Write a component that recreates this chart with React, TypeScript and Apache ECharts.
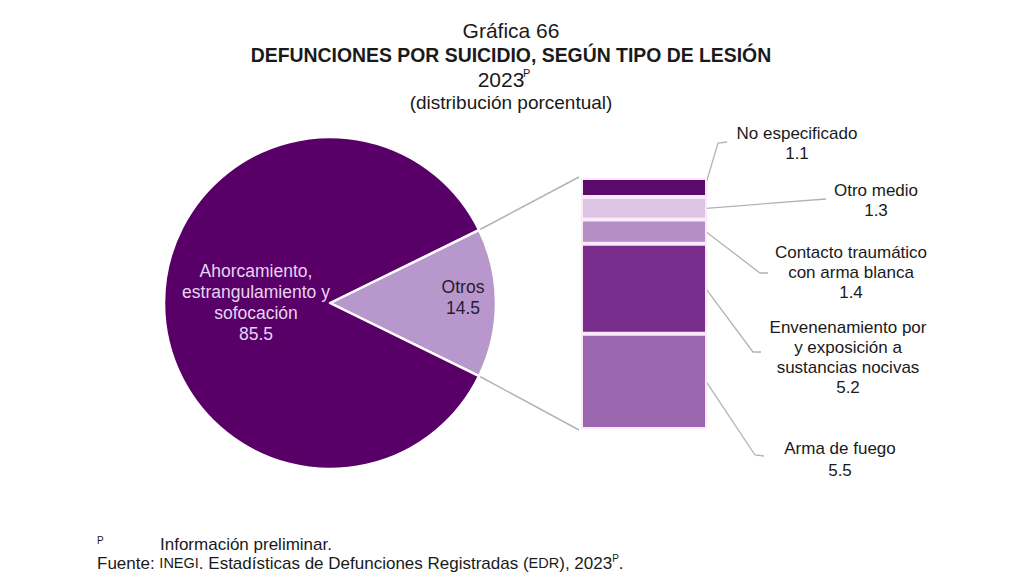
import React, { useEffect, useRef } from 'react';
import * as echarts from 'echarts';

const pieLabels = ['Otros', 'Ahorcamiento,\nestrangulamiento y\nsofocación'];
const pieNames = ['Otros', 'Ahorcamiento, estrangulamiento y sofocación'];
const pieValues = [14.5, 85.5];
const pieColors = ['#b898cc', '#580068'];

const barNames = ['No especificado', 'Otro medio', 'Contacto traumático con arma blanca', 'Envenenamiento por y exposición a sustancias nocivas', 'Arma de fuego'];
const barLabelLines = [['No especificado'], ['Otro medio'], ['Contacto traumático', 'con arma blanca'], ['Envenenamiento por', 'y exposición a', 'sustancias nocivas'], ['Arma de fuego']];
const barValues = [1.1, 1.3, 1.4, 5.2, 5.5];
const barColors = ['#5b0a6c', '#dcc5e4', '#b48ec5', '#782c8c', '#9a66ad'];

// label placement (styling)
const labelCenters = [[797, 133], [876, 190], [851, 252], [848, 327], [840, 448]];
const leaderBends = [[[718, 143], [727, 142]], [[826, 199]], [[760, 273], [768, 273]], [[753, 352], [761, 352]], [[755, 455], [764, 456]]];
const pieLabelOffsets = [[133, -6], [-74, -1]];

const PIE_CX = 330, PIE_CY = 303, PIE_R = 166;
const GRID_LEFT = 581, GRID_TOP = 178, GRID_W = 126, GRID_H = 251;
const FONT = 'Liberation Sans, Arial, sans-serif';
const TXT = '#1a1a1a';
const LINE = '#b3b3b3';

export default function App() {
  const ref = useRef<HTMLDivElement>(null);
  useEffect(() => {
    const chart = echarts.init(ref.current!, undefined, { renderer: 'svg' });
    const pieTotal = pieValues.reduce((a, b) => a + b, 0);
    const startAngle = (pieValues[0] / pieTotal) * 180;
    const barTotal = barValues.reduce((a, b) => a + b, 0);

    chart.setOption({
      animation: false,
      backgroundColor: '#ffffff',
      textStyle: { fontFamily: FONT },
      grid: { left: GRID_LEFT, top: GRID_TOP, width: GRID_W, height: GRID_H },
      xAxis: { type: 'category', data: ['Otros'], show: false },
      yAxis: { type: 'value', min: 0, max: barTotal, inverse: true, show: false },
      series: [
        {
          type: 'pie',
          center: [PIE_CX, PIE_CY],
          radius: PIE_R,
          startAngle,
          clockwise: true,
          silent: true,
          itemStyle: { borderColor: '#ffffff', borderWidth: 2.5 },
          label: {
            show: true,
            position: 'inside',
            fontFamily: FONT,
            fontSize: 17.5,
            lineHeight: 21,
            align: 'center',
            verticalAlign: 'middle',
            formatter: (p: any) => `${pieLabels[p.dataIndex]}\n${p.value}`,
          },
          labelLayout: (p: any) => ({
            x: PIE_CX + pieLabelOffsets[p.dataIndex][0],
            y: PIE_CY + pieLabelOffsets[p.dataIndex][1],
            align: 'center',
            verticalAlign: 'middle',
          }),
          data: pieValues.map((v, i) => ({
            name: pieNames[i],
            value: v,
            itemStyle: { color: pieColors[i] },
            label: { color: i === 0 ? '#2a1a33' : '#e8d3f1' },
          })),
        },
        ...barValues.map((v, i) => ({
          type: 'bar',
          name: barNames[i],
          stack: 'otros',
          barWidth: '100%',
          silent: true,
          data: [v],
          itemStyle: { color: barColors[i], borderColor: '#fbe9fb', borderWidth: 2 },
        })),
      ],
    });

    const toPx = (y: number) => chart.convertToPixel({ xAxisIndex: 0, yAxisIndex: 0 }, [0, y]) as number[];
    const rad = (startAngle * Math.PI) / 180;
    const pTop = [PIE_CX + PIE_R * Math.cos(rad), PIE_CY - PIE_R * Math.sin(rad)];
    const pBot = [PIE_CX + PIE_R * Math.cos(rad), PIE_CY + PIE_R * Math.sin(rad)];
    const barLeft = GRID_LEFT + 1;
    const barRight = GRID_LEFT + GRID_W - 1;
    const yTop = toPx(0)[1];
    const yBot = toPx(barTotal)[1];

    const els: any[] = [];
    els.push({ type: 'line', silent: true, shape: { x1: pTop[0], y1: pTop[1], x2: barLeft - 3, y2: yTop - 1 }, style: { stroke: LINE, lineWidth: 1.5 } });
    els.push({ type: 'line', silent: true, shape: { x1: pBot[0], y1: pBot[1], x2: barLeft - 3, y2: yBot + 1 }, style: { stroke: LINE, lineWidth: 1.5 } });

    let cum = 0;
    barValues.forEach((v, i) => {
      const mid = toPx(cum + v / 2)[1];
      cum += v;
      const anchorY = i === 0 ? mid - 4 : mid;
      const pts = [[barRight, anchorY], ...leaderBends[i]];
      els.push({ type: 'polyline', silent: true, shape: { points: pts }, style: { stroke: LINE, lineWidth: 1.3, fill: null } });
      const [cx, cy] = labelCenters[i];
      const lines = [...barLabelLines[i], String(v)];
      lines.forEach((t, k) => {
        els.push({
          type: 'text', silent: true, x: cx, y: cy + k * (i === 4 && k === 1 ? 22 : 20),
          style: { text: t, fill: TXT, font: `17px ${FONT}`, textAlign: 'center', textVerticalAlign: 'middle' },
        });
      });
    });

    // titles
    const title = (text: string, y: number, font: string) => ({
      type: 'text', silent: true, x: 511, y,
      style: { text, fill: TXT, font, textAlign: 'center', textVerticalAlign: 'middle' },
    });
    els.push(title('Gráfica 66', 30, `21px ${FONT}`));
    els.push(title('DEFUNCIONES POR SUICIDIO, SEGÚN TIPO DE LESIÓN', 55, `bold 19.4px ${FONT}`));
    els.push({ type: 'text', silent: true, x: 501, y: 79, style: { text: '2023', fill: TXT, font: `21px ${FONT}`, textAlign: 'center', textVerticalAlign: 'middle' } });
    els.push({ type: 'text', silent: true, x: 523, y: 73, style: { text: 'P', fill: TXT, font: `11px ${FONT}`, textAlign: 'left', textVerticalAlign: 'middle' } });
    els.push(title('(distribución porcentual)', 102, `19px ${FONT}`));

    // footer
    els.push({ type: 'text', silent: true, x: 97, y: 540, style: { text: 'P', fill: TXT, font: `10px ${FONT}`, textVerticalAlign: 'middle' } });
    els.push({ type: 'text', silent: true, x: 160, y: 544, style: { text: 'Información preliminar.', fill: TXT, font: `17px ${FONT}`, textVerticalAlign: 'middle' } });
    els.push({
      type: 'text', silent: true, x: 97, y: 563,
      style: {
        text: '{n|Fuente: }{s|INEGI}{n|. Estadísticas de Defunciones Registradas (}{s|EDR}{n|), 2023}{p|P}{n|.}',
        fill: TXT, textVerticalAlign: 'middle',
        rich: {
          n: { fontSize: 17, fontFamily: FONT, fill: TXT, lineHeight: 20 },
          s: { fontSize: 14.5, fontFamily: FONT, fill: TXT, lineHeight: 20 },
          p: { fontSize: 10, fontFamily: FONT, fill: TXT, lineHeight: 20, padding: [0, 0, 10, 0] },
        },
      },
    });

    chart.setOption({ graphic: { elements: els } });
    return () => chart.dispose();
  }, []);
  return <div ref={ref} style={{ position: 'absolute', left: 0, top: 0, width: 1024, height: 576 }} />;
}
